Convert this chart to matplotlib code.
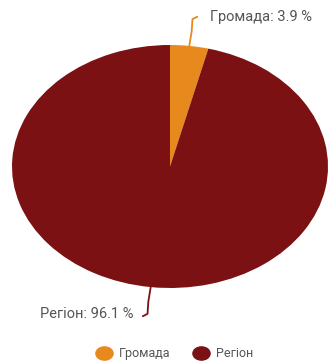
import numpy as np
from matplotlib import pyplot as plt
from matplotlib.lines import Line2D
from matplotlib.markers import MarkerStyle
from matplotlib.transforms import Affine2D

labels = ['Громада', 'Регіон']
values = [3.9, 96.1]
colors = ['#E8891D', '#7B1113']
text_color = '#555555'

plt.rcParams['font.family'] = ['Roboto', 'DejaVu Sans']

fig = plt.figure(figsize=(3.3, 3.63), dpi=100)
# pie is drawn stretched sideways, like the original
ax = fig.add_axes([12 / 330, 1 - 288 / 363, 316 / 330, 243 / 363])
wedges, _ = ax.pie(values, colors=colors, startangle=90, counterclock=False,
                   wedgeprops=dict(linewidth=0))
ax.set_aspect('auto')
ax.set_xlim(-1, 1)
ax.set_ylim(-1, 1)
ax.axis('off')

# leader lines + labels from the wedge mid angles
for w, lab, val, col in zip(wedges, labels, values, colors):
    ang = np.deg2rad((w.theta1 + w.theta2) / 2)
    x0, y0 = np.cos(ang), np.sin(ang)
    sgn = 1 if y0 > 0 else -1
    x1 = x0 + 0.02 * sgn
    y1 = y0 + 0.22 * sgn
    hook = 0.03 * sgn
    ax.plot([x0, x0 + 0.015 * sgn, x1, x1 + hook], [y0, y0 + 0.12 * sgn, y1, y1 + 0.02 * sgn],
            color=col, lw=1.3, clip_on=False, solid_capstyle='round')
    txt = f'{lab}: {val} %'
    if sgn > 0:
        ax.text(x1 + hook + 0.08, y1 + 0.015, txt, ha='left', va='center',
                fontsize=10.5, color=text_color)
    else:
        ax.text(x1 + hook - 0.06, y1 - 0.005, txt, ha='right', va='center',
                fontsize=10.5, color=text_color)

oval = MarkerStyle('o', transform=Affine2D().scale(1.3, 1.0))
handles = [Line2D([], [], marker=oval, ls='', markersize=9.5, markerfacecolor=c,
                  markeredgecolor=c) for c in colors]
fig.legend(handles, labels, loc='center', bbox_to_anchor=(0.53, 0.025), ncol=2,
           frameon=False, fontsize=9, labelcolor=text_color, handletextpad=0.6,
           columnspacing=1.8, handlelength=1.2)

fig.savefig('out.png', dpi=100, facecolor='white')
